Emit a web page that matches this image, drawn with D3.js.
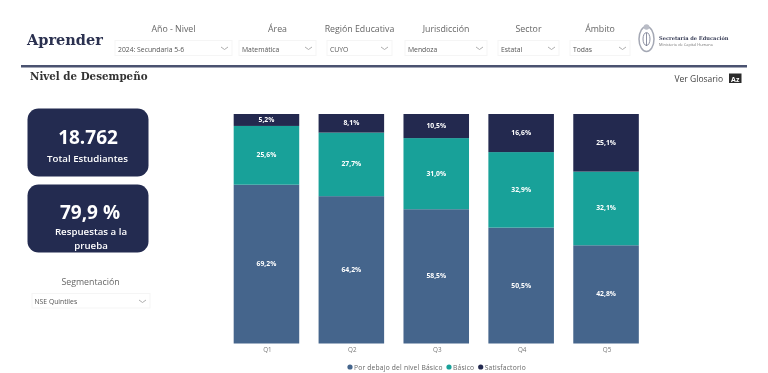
<!DOCTYPE html>
<html>
<head>
<meta charset="utf-8">
<script src="https://cdn.jsdelivr.net/npm/d3@7"></script>
<style>
html,body{margin:0;padding:0;background:#fff;overflow:hidden}
svg{display:block;filter:blur(0.5px)}
text{font-family:"Open Sans",sans-serif}
</style>
</head>
<body>
<script>
var quintiles = ["Q1","Q2","Q3","Q4","Q5"];
var porDebajo = [69.2,64.2,58.5,50.5,42.8];
var basico = [25.6,27.7,31.0,32.9,32.1];
var satisfactorio = [5.2,8.1,10.5,16.6,25.1];
var seriesNames = ["Por debajo del nivel Básico","Básico","Satisfactorio"];
var seriesColors = ["#45658c","#18a199","#23294f"];
var filterTitles = ["Año - Nivel","Área","Región Educativa","Jurisdicción","Sector","Ámbito"];
var filterValues = ["2024: Secundaria 5-6","Matemática","CUYO","Mendoza","Estatal","Todas"];
var filterLeft = [115,239,327,405,498,570];
var filterRight = [232,316,392,487,559,630];

var fmt = function(v){ return v.toFixed(1).replace(".",",")+"%"; };

var svg = d3.select("body").append("svg").attr("width",768).attr("height",373);

// header
svg.append("text").attr("x",27).attr("y",45).style("font-family","'DejaVu Serif',serif")
    .attr("font-size",14.5).attr("font-weight","bold").attr("fill","#2b3150").text("Aprender");
svg.append("rect").attr("x",21).attr("y",65).attr("width",726).attr("height",2.5).attr("fill","#4a5270");
svg.append("text").attr("x",30).attr("y",80).style("font-family","'DejaVu Serif',serif")
    .attr("font-size",10.3).attr("font-weight","bold").attr("fill","#333").text("Nivel de Desempeño");

function slicer(x0,x1,title,value){
    var g = svg.append("g");
    g.append("rect").attr("x",x0).attr("y",40.5).attr("width",x1-x0).attr("height",15)
        .attr("fill","#fff").attr("stroke","#f5f5f5");
    g.append("text").attr("x",(x0+x1)/2).attr("y",32).attr("text-anchor","middle")
        .attr("font-size",8.8).attr("fill","#666").text(title);
    g.append("text").attr("x",x0+3).attr("y",51.5).attr("font-size",6.8).attr("fill","#555").text(value);
    g.append("path").attr("d","M"+(x1-11)+",47 l3.5,2.5 l3.5,-2.5").attr("fill","none").attr("stroke","#999").attr("stroke-width",0.8);
}
filterTitles.forEach(function(t,i){ slicer(filterLeft[i],filterRight[i],t,filterValues[i]); });

// escudo
var logo = svg.append("g").attr("fill","none").attr("stroke","#a4a8b4");
logo.append("ellipse").attr("cx",646.5).attr("cy",39).attr("rx",7.5).attr("ry",12.5).attr("stroke-width",1.5);
logo.append("ellipse").attr("cx",646.5).attr("cy",39).attr("rx",3.5).attr("ry",6.5).attr("stroke","#70758a").attr("stroke-width",0.8);
logo.append("path").attr("d","M646.5,33 V46").attr("stroke","#70758a").attr("stroke-width",0.8);
logo.append("circle").attr("cx",646.5).attr("cy",27).attr("r",2.8).attr("fill","#b9bcc6").attr("stroke","none");
svg.append("text").attr("x",659).attr("y",39.5).style("font-family","'DejaVu Serif',serif").attr("font-size",5.1).attr("font-weight","bold").attr("fill","#3a3f58").text("Secretaría de Educación");
svg.append("text").attr("x",659).attr("y",45.5).attr("font-size",3.9).attr("fill","#777").text("Ministerio de Capital Humano");

svg.append("text").attr("x",723).attr("y",82).attr("text-anchor","end").attr("font-size",8.5).attr("fill","#444").text("Ver Glosario");
svg.append("rect").attr("x",729).attr("y",73.5).attr("width",12.5).attr("height",9.5).attr("fill","#2a2a2a");
svg.append("text").attr("x",735.2).attr("y",81.5).attr("text-anchor","middle").attr("font-size",7).attr("font-weight","bold").attr("fill","#fff").text("Az");

// tarjetas
function card(y,h,big,bigX,bigY,lines,lineX,lineY){
    svg.append("rect").attr("x",27.5).attr("y",y).attr("width",121).attr("height",h).attr("rx",11).attr("fill","#232b50");
    svg.append("text").attr("x",bigX).attr("y",bigY).attr("text-anchor","middle").attr("font-size",19).attr("font-weight","bold").attr("fill","#fff").text(big);
    lines.forEach(function(l,i){
        svg.append("text").attr("x",lineX).attr("y",lineY+i*14).attr("text-anchor","middle").attr("font-size",9.7).attr("font-weight","600").attr("fill","#fff").text(l);
    });
}
card(108.5,68,"18.762",88,143.5,["Total Estudiantes"],87.5,161.5);
card(184.5,68,"79,9 %",90,219,["Respuestas a la","prueba"],91,234.5);

svg.append("text").attr("x",90.5).attr("y",284.5).attr("text-anchor","middle").attr("font-size",8.8).attr("fill","#666").text("Segmentación");
svg.append("rect").attr("x",32).attr("y",293.5).attr("width",118).attr("height",14.5).attr("fill","#fff").attr("stroke","#f5f5f5");
svg.append("text").attr("x",34.5).attr("y",304).attr("font-size",6.8).attr("fill","#555").text("NSE Quintiles");
svg.append("path").attr("d","M139,300 l3.5,2.5 l3.5,-2.5").attr("fill","none").attr("stroke","#999").attr("stroke-width",0.8);

// grafico
var rows = quintiles.map(function(q,i){ return {q:q, a:porDebajo[i], b:basico[i], c:satisfactorio[i]}; });
var stack = d3.stack().keys(["a","b","c"]);
var x = d3.scaleBand().domain(quintiles).range([224,648.5]).paddingInner(0.228).paddingOuter(0.114);
var y = d3.scaleLinear().domain([0,100]).range([343.5,114]);

var layers = svg.selectAll("g.layer").data(stack(rows)).enter().append("g").attr("class","layer")
    .attr("fill",function(d,i){ return seriesColors[i]; });
layers.selectAll("rect").data(function(d){ return d; }).enter().append("rect")
    .attr("x",function(d){ return x(d.data.q); })
    .attr("y",function(d){ return y(d[1]); })
    .attr("width",x.bandwidth())
    .attr("height",function(d){ return y(d[0])-y(d[1]); });
layers.selectAll("text").data(function(d){ return d; }).enter().append("text")
    .attr("x",function(d){ return x(d.data.q)+x.bandwidth()/2; })
    .attr("y",function(d){ return (y(d[0])+y(d[1]))/2+2; })
    .attr("text-anchor","middle").attr("font-size",6.8).attr("font-weight","bold").attr("fill","#fff")
    .text(function(d){ return fmt(d[1]-d[0]); });

var axis = svg.append("g").attr("transform","translate(1,343.5)").call(d3.axisBottom(x).tickSize(0).tickPadding(4));
axis.select(".domain").remove();
axis.selectAll("text").attr("font-size",6.3).attr("fill","#777").style("font-family","'Open Sans',sans-serif");

// leyenda
var legendX = [349,448,479.7];
var legend = svg.selectAll("g.leg").data(seriesNames).enter().append("g").attr("class","leg")
    .attr("transform",function(d,i){ return "translate("+legendX[i]+",367)"; });
legend.append("circle").attr("cx",1).attr("cy",0).attr("r",2.6).attr("fill",function(d,i){ return seriesColors[i]; });
legend.append("text").attr("x",5).attr("y",2.5).attr("font-size",6.7).attr("fill","#666").attr("letter-spacing",0.2).text(function(d){ return d; });
</script>
</body>
</html>
